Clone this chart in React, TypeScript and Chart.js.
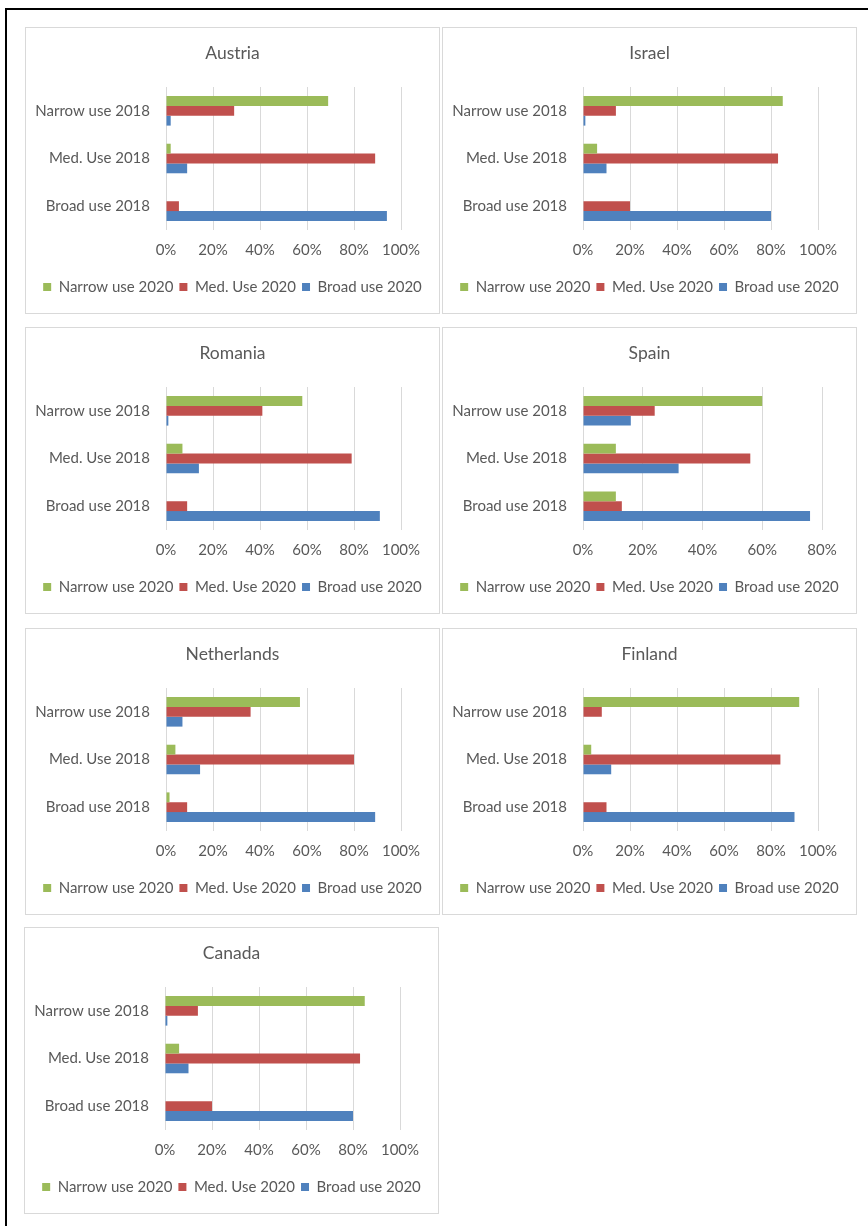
import React, { useEffect, useRef } from "react";
import { Chart, registerables } from "chart.js";

Chart.register(...registerables);

// ---------- data ----------
const categories = ["Narrow use 2018", "Med. Use 2018", "Broad use 2018"];
const seriesNames = ["Narrow use 2020", "Med. Use 2020", "Broad use 2020"];
const seriesColors = ["#9BBB59", "#C0504D", "#4F81BD"];

const ticks100 = [0, 20, 40, 60, 80, 100];
const ticks80 = [0, 20, 40, 60, 80];

// values per series: [Narrow use 2018, Med. Use 2018, Broad use 2018]
const austriaNarrow2020 = [69, 2, 0];
const austriaMed2020 = [29, 89, 5.5];
const austriaBroad2020 = [2, 9, 94];

const israelNarrow2020 = [85, 6, 0];
const israelMed2020 = [14, 83, 20];
const israelBroad2020 = [1, 10, 80];

const romaniaNarrow2020 = [58, 7, 0];
const romaniaMed2020 = [41, 79, 9];
const romaniaBroad2020 = [1, 14, 91];

const spainNarrow2020 = [60, 11, 11];
const spainMed2020 = [24, 56, 13];
const spainBroad2020 = [16, 32, 76];

const netherlandsNarrow2020 = [57, 4, 1.5];
const netherlandsMed2020 = [36, 80, 9];
const netherlandsBroad2020 = [7, 14.5, 89];

const finlandNarrow2020 = [92, 3.5, 0];
const finlandMed2020 = [8, 84, 10];
const finlandBroad2020 = [0, 12, 90];

const canadaNarrow2020 = [85, 6, 0];
const canadaMed2020 = [14, 83, 20];
const canadaBroad2020 = [1, 10, 80];

const FONT = "Lato, 'Open Sans', sans-serif";
const TEXT = "#595959";
const GRID = "#D9D9D9";
const LEGEND_PAD = 6;

type PanelProps = {
  title: string;
  series: number[][];
  ticks: number[];
  left: number;
  top: number;
  rightGap: number;
};

function Panel({ title, series, ticks, left, top, rightGap }: PanelProps) {
  const ref = useRef<HTMLCanvasElement | null>(null);
  useEffect(() => {
    if (!ref.current) return;
    const max = ticks[ticks.length - 1];
    const step = ticks[1] - ticks[0];
    const chart = new Chart(ref.current, {
      type: "bar",
      data: {
        labels: categories,
        datasets: series.map((vals, i) => ({
          label: seriesNames[i],
          data: vals,
          backgroundColor: seriesColors[i],
          borderWidth: 0,
          categoryPercentage: 0.62,
          barPercentage: 1,
        })),
      },
      options: {
        indexAxis: "y",
        animation: false,
        responsive: false,
        maintainAspectRatio: false,
        layout: { padding: { left: 0, right: 0, top: 0, bottom: 8.5 } },
        scales: {
          x: {
            type: "linear",
            min: 0,
            max,
            grid: { color: GRID, lineWidth: 1, drawTicks: false },
            border: { display: false },
            ticks: {
              stepSize: step,
              padding: 11,
              color: TEXT,
              font: { family: FONT, size: 15 },
              callback: (v: any) => v + "%",
            },
            afterFit: (s: any) => {
              s.height = 49.5 - LEGEND_PAD;
            },
          },
          y: {
            type: "category",
            grid: { display: false, drawTicks: false },
            border: { display: false },
            ticks: {
              padding: 16,
              color: TEXT,
              font: { family: FONT, size: 15 },
            },
            afterFit: (s: any) => {
              s.width = 140;
            },
          },
          yRight: {
            type: "linear",
            position: "right",
            display: true,
            grid: { display: false, drawTicks: false },
            border: { display: false },
            ticks: { display: false },
            afterFit: (s: any) => {
              s.width = rightGap;
            },
          },
        },
        plugins: {
          title: {
            display: true,
            text: title,
            color: TEXT,
            font: { family: FONT, size: 17.5, weight: "normal" },
            padding: { top: 14.5, bottom: 23.5 },
          },
          legend: {
            position: "bottom",
            labels: {
              color: TEXT,
              font: { family: FONT, size: 15 },
              boxWidth: 8,
              boxHeight: 8,
              padding: LEGEND_PAD,
            },
          },
          tooltip: { enabled: false },
        },
      },
    } as any);
    return () => chart.destroy();
  }, []);
  return (
    <div
      style={{
        position: "absolute",
        left,
        top,
        width: 415,
        height: 287,
        border: "1px solid #D9D9D9",
        boxSizing: "border-box",
        background: "#fff",
      }}
    >
      <canvas ref={ref} width={413} height={285} style={{ display: "block", width: 413, height: 285 }} />
    </div>
  );
}

export default function App() {
  return (
    <div>
      <div
        style={{
          position: "absolute",
          left: 5,
          top: 8,
          width: 863,
          height: 1218,
          borderTop: "2px solid #000",
          borderLeft: "2px solid #000",
          boxSizing: "border-box",
        }}
      />
      <Panel title="Austria" series={[austriaNarrow2020, austriaMed2020, austriaBroad2020]} ticks={ticks100} left={25} top={27} rightGap={38} />
      <Panel title="Israel" series={[israelNarrow2020, israelMed2020, israelBroad2020]} ticks={ticks100} left={442} top={27} rightGap={38} />
      <Panel title="Romania" series={[romaniaNarrow2020, romaniaMed2020, romaniaBroad2020]} ticks={ticks100} left={25} top={327} rightGap={38} />
      <Panel title="Spain" series={[spainNarrow2020, spainMed2020, spainBroad2020]} ticks={ticks80} left={442} top={327} rightGap={34} />
      <Panel title="Netherlands" series={[netherlandsNarrow2020, netherlandsMed2020, netherlandsBroad2020]} ticks={ticks100} left={25} top={628} rightGap={38} />
      <Panel title="Finland" series={[finlandNarrow2020, finlandMed2020, finlandBroad2020]} ticks={ticks100} left={442} top={628} rightGap={38} />
      <Panel title="Canada" series={[canadaNarrow2020, canadaMed2020, canadaBroad2020]} ticks={ticks100} left={24} top={927} rightGap={38} />
    </div>
  );
}
